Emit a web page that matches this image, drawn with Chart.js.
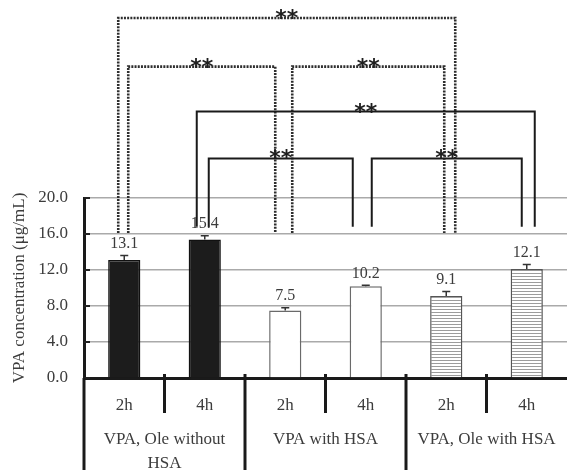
<!DOCTYPE html>
<html>
<head>
<meta charset="utf-8">
<script src="https://cdn.jsdelivr.net/npm/chart.js@4"></script>
<style>
  html, body { margin: 0; padding: 0; background: #fff; }
</style>
</head>
<body>
<canvas id="c" width="567" height="470"></canvas>
<script>
// ---- data ----
const timeLabels = ['2h', '4h', '2h', '4h', '2h', '4h'];
const groupLabels = [['VPA, Ole without', 'HSA'], 'VPA with HSA', 'VPA, Ole with HSA'];
const concentration = [13.1, 15.4, 7.5, 10.2, 9.1, 12.1];
const errorSD = [0.5, 0.4, 0.3, 0.1, 0.5, 0.5];
const yTicks = [0, 4, 8, 12, 16, 20];
// pairs of bar indices compared, with the significance mark drawn over each
const comparisons = [[0, 4], [0, 2], [2, 4], [1, 5], [1, 3], [3, 5]];
const significance = ['**', '**', '**', '**', '**', '**'];

const SERIF = "'Liberation Serif', 'Times New Roman', serif";

// horizontal stripe fill for the third group
function stripePattern() {
  const pc = document.createElement('canvas');
  pc.width = 4; pc.height = 3;
  const g = pc.getContext('2d');
  g.fillStyle = '#ffffff';
  g.fillRect(0, 0, 4, 3);
  g.fillStyle = '#9c9c9c';
  g.fillRect(0, 0, 4, 1);
  return g.createPattern(pc, 'repeat');
}
const ctx = document.getElementById('c').getContext('2d');
const stripes = stripePattern();

const barFill = ['#1c1c1c', '#1c1c1c', '#ffffff', '#ffffff', stripes, stripes];
const barEdge = ['#111111', '#111111', '#6a6a6a', '#6a6a6a', '#555555', '#555555'];

// bracket geometry: level / leg end in axis units, leg offsets in px from the bar centre
const bracketStyle = [
  { level: 40.0, legEnd: 16.1, offs: [-6, 9],   dotted: true },
  { level: 34.6, legEnd: 16.1, offs: [4, -10],  dotted: true },
  { level: 34.6, legEnd: 16.1, offs: [7, -2],   dotted: true },
  { level: 29.6, legEnd: 16.8, offs: [-8, 8],   dotted: false },
  { level: 24.4, legEnd: 16.8, offs: [4, -13],  dotted: false },
  { level: 24.4, legEnd: 16.8, offs: [6, -5],   dotted: false }
];

const decorations = {
  id: 'decorations',
  afterDatasetsDraw(chart) {
    const { ctx: g, scales: { x, y } } = chart;
    const meta = chart.getDatasetMeta(0);
    g.save();
    // error bars
    g.strokeStyle = '#333';
    g.lineWidth = 1.5;
    concentration.forEach((v, i) => {
      const cx = meta.data[i].x;
      const yTop = y.getPixelForValue(v + errorSD[i]);
      const yVal = y.getPixelForValue(v);
      g.beginPath();
      g.moveTo(cx, yVal); g.lineTo(cx, yTop);
      g.moveTo(cx - 4, yTop); g.lineTo(cx + 4, yTop);
      g.stroke();
    });
    // value labels
    g.fillStyle = '#3c3c3c';
    g.font = '16px ' + SERIF;
    g.textAlign = 'center';
    g.textBaseline = 'middle';
    concentration.forEach((v, i) => {
      const cx = meta.data[i].x;
      g.fillText(v.toFixed(1), cx, y.getPixelForValue(v + errorSD[i]) - 12);
    });
    // short dark ticks on the inside of the y axis
    g.strokeStyle = '#222';
    g.lineWidth = 2;
    yTicks.forEach(t => {
      const py = y.getPixelForValue(t);
      g.beginPath(); g.moveTo(x.left, py); g.lineTo(x.left + 6, py); g.stroke();
    });
    g.restore();
  },
  afterDraw(chart) {
    const { ctx: g, scales: { x, y }, chartArea } = chart;
    g.save();
    // category dividers: short upward ticks, lines down through the label rows
    g.strokeStyle = '#1a1a1a';
    g.lineWidth = 3;
    for (let i = 0; i < timeLabels.length - 1; i++) {
      const bx = (x.getPixelForValue(i) + x.getPixelForValue(i + 1)) / 2;
      const groupEdge = (i % 2 === 1);
      g.beginPath();
      g.moveTo(bx, chartArea.bottom - 4);
      g.lineTo(bx, groupEdge ? chart.height : chartArea.bottom + 35);
      g.stroke();
    }
    // y axis continues down beside the group labels
    g.beginPath();
    g.moveTo(chartArea.left, chartArea.bottom);
    g.lineTo(chartArea.left, chart.height);
    g.stroke();

    // significance brackets
    comparisons.forEach(([a, b], k) => {
      const s = bracketStyle[k];
      const x1 = x.getPixelForValue(a) + s.offs[0];
      const x2 = x.getPixelForValue(b) + s.offs[1];
      const yl = y.getPixelForValue(s.level);
      const ye = y.getPixelForValue(s.legEnd);
      g.beginPath();
      if (s.dotted) {
        g.setLineDash([2, 1.2]);
        g.strokeStyle = '#2e2e2e';
        g.lineWidth = 2.6;
      } else {
        g.setLineDash([]);
        g.strokeStyle = '#1a1a1a';
        g.lineWidth = 2;
      }
      g.moveTo(x1, ye); g.lineTo(x1, yl); g.lineTo(x2, yl); g.lineTo(x2, ye);
      g.stroke();
      g.setLineDash([]);
      g.fillStyle = '#1e1e1e';
      g.font = "bold 22px 'DejaVu Sans', sans-serif";
      g.textAlign = 'center';
      g.textBaseline = 'alphabetic';
      g.fillText(significance[k], (x1 + x2) / 2, yl + 7);
    });
    g.restore();
  }
};

new Chart(ctx, {
  type: 'bar',
  data: {
    labels: timeLabels,
    datasets: [{
      data: concentration,
      backgroundColor: barFill,
      borderColor: barEdge,
      borderWidth: 1.5,
      barPercentage: 0.4,
      categoryPercentage: 1.0
    }]
  },
  options: {
    responsive: false,
    animation: false,
    events: [],
    layout: { padding: { top: 198, left: 0, right: 0, bottom: 0 } },
    plugins: { legend: { display: false }, tooltip: { enabled: false } },
    scales: {
      x: {
        type: 'category',
        position: 'bottom',
        weight: 1,
        offset: true,
        grid: { display: false, drawTicks: false },
        border: { display: true, color: '#1a1a1a', width: 3 },
        ticks: { color: '#3c3c3c', font: { family: SERIF, size: 17 }, padding: 17 },
        afterFit(scale) { scale.height = 44; }
      },
      x2: {
        type: 'category',
        position: 'bottom',
        weight: 2,
        offset: true,
        labels: groupLabels,
        grid: { display: false, drawTicks: false },
        border: { display: false },
        ticks: { color: '#3c3c3c', font: { family: SERIF, size: 17, lineHeight: 1.45 }, padding: 5 },
        afterFit(scale) { scale.height = 48; }
      },
      y: {
        min: 0,
        max: 20,
        afterBuildTicks(scale) { scale.ticks = yTicks.map(v => ({ value: v })); },
        grid: {
          drawTicks: false,
          color: c => (c.tick && c.tick.value === 0 ? 'rgba(0,0,0,0)' : '#aaaaaa'),
          lineWidth: 1.6
        },
        border: { display: true, color: '#1a1a1a', width: 3 },
        ticks: {
          color: '#3c3c3c',
          font: { family: SERIF, size: 17 },
          padding: 16,
          callback: v => Number(v).toFixed(1)
        },
        title: {
          display: true,
          text: 'VPA concentration (μg/mL)',
          color: '#3c3c3c',
          font: { family: SERIF, size: 17 },
          padding: { top: 9, bottom: 0 }
        },
        afterFit(scale) { scale.width = 84; }
      }
    }
  },
  plugins: [decorations]
});
</script>
</body>
</html>
